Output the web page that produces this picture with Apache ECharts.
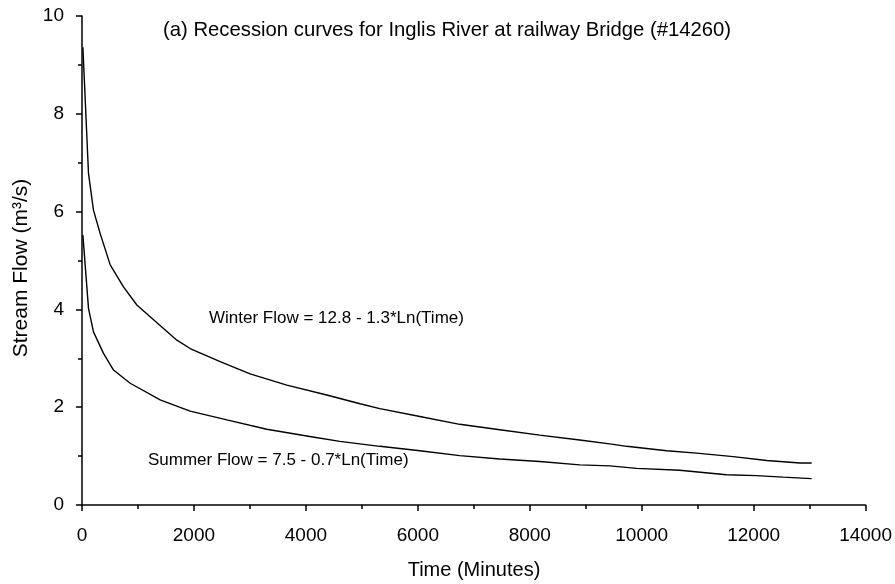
<!DOCTYPE html>
<html>
<head>
<meta charset="utf-8">
<script src="https://cdn.jsdelivr.net/npm/echarts@6/dist/echarts.min.js"></script>
<style>html,body{margin:0;padding:0;background:#fff}#c{width:895px;height:584px}</style>
</head>
<body>
<div id="c"></div>
<script>
// Winter recession curve (time in minutes, flow in m3/s)
const winterTime = [16, 116, 205, 325, 504, 741, 980, 1248, 1695, 1932, 2468, 3004, 3659, 4373, 4968, 5321, 6036, 6750, 7464, 8179, 8893, 9429, 9732, 10446, 10982, 11636, 12232, 12827, 13036];
const winterFlow = [9.36, 6.78, 6.03, 5.55, 4.91, 4.46, 4.09, 3.82, 3.37, 3.20, 2.93, 2.68, 2.45, 2.25, 2.07, 1.97, 1.81, 1.65, 1.54, 1.43, 1.33, 1.25, 1.20, 1.11, 1.06, 0.99, 0.91, 0.86, 0.86];
// Summer recession curve
const summerTime = [16, 116, 205, 384, 563, 861, 1396, 1932, 2588, 3302, 4070, 4607, 5321, 6036, 6750, 7464, 8179, 8893, 9429, 9911, 10679, 11512, 12048, 12524, 13036];
const summerFlow = [5.52, 4.02, 3.54, 3.10, 2.76, 2.49, 2.15, 1.92, 1.74, 1.55, 1.40, 1.30, 1.20, 1.11, 1.01, 0.94, 0.89, 0.82, 0.80, 0.75, 0.71, 0.62, 0.60, 0.57, 0.54];

const titleText = '(a) Recession curves for Inglis River at railway Bridge (#14260)';
const winterLabel = 'Winter Flow = 12.8 - 1.3*Ln(Time)';
const summerLabel = 'Summer Flow = 7.5 - 0.7*Ln(Time)';
const xTitle = 'Time (Minutes)';
const yTitle = 'Stream Flow (m³/s)';

const FONT = 'Liberation Sans, Arial, sans-serif';
const chart = echarts.init(document.getElementById('c'), null, {renderer: 'canvas'});
const pairs = (xs, ys) => xs.map((x, i) => [x, ys[i]]);
const axisCommon = {
  axisLine: {show: true, onZero: false, lineStyle: {color: '#000', width: 1.5}},
  axisTick: {show: true, inside: false, length: 6, lineStyle: {color: '#000', width: 1.5}},
  minorTick: {show: true, splitNumber: 2, length: 4, lineStyle: {color: '#000', width: 1.5}},
  splitLine: {show: false},
  minorSplitLine: {show: false}
};
chart.setOption({
  animation: false,
  backgroundColor: '#fff',
  grid: {left: 82, right: 29, top: 16, bottom: 79},
  xAxis: Object.assign({
    type: 'value', min: 0, max: 14000, interval: 2000,
    axisLabel: {color: '#000', fontSize: 19, fontFamily: FONT, margin: 21, formatter: v => String(v)}
  }, axisCommon),
  yAxis: Object.assign({
    type: 'value', min: 0, max: 10, interval: 2,
    axisLabel: {color: '#000', fontSize: 19, fontFamily: FONT, margin: 18, formatter: v => String(v)}
  }, axisCommon),
  series: [
    {type: 'line', name: 'Winter', data: pairs(winterTime, winterFlow), showSymbol: false,
     lineStyle: {color: '#000', width: 1.4}, z: 3},
    {type: 'line', name: 'Summer', data: pairs(summerTime, summerFlow), showSymbol: false,
     lineStyle: {color: '#000', width: 1.4}, z: 3}
  ],
  graphic: [
    {type: 'text', x: 163, y: 30.5, style: {text: titleText, fill: '#000', font: '20.3px ' + FONT, textVerticalAlign: 'middle'}},
    {type: 'text', x: 209, y: 318, style: {text: winterLabel, fill: '#000', font: '17px ' + FONT, textVerticalAlign: 'middle'}},
    {type: 'text', x: 148, y: 460, style: {text: summerLabel, fill: '#000', font: '17px ' + FONT, textVerticalAlign: 'middle'}},
    {type: 'text', x: 474, y: 570, style: {text: xTitle, fill: '#000', font: '20px ' + FONT, textAlign: 'center', textVerticalAlign: 'middle'}},
    {type: 'text', x: 21, y: 268, rotation: Math.PI / 2, style: {text: yTitle, fill: '#000', font: '21px ' + FONT, textAlign: 'center', textVerticalAlign: 'middle'}}
  ]
});
</script>
</body>
</html>
